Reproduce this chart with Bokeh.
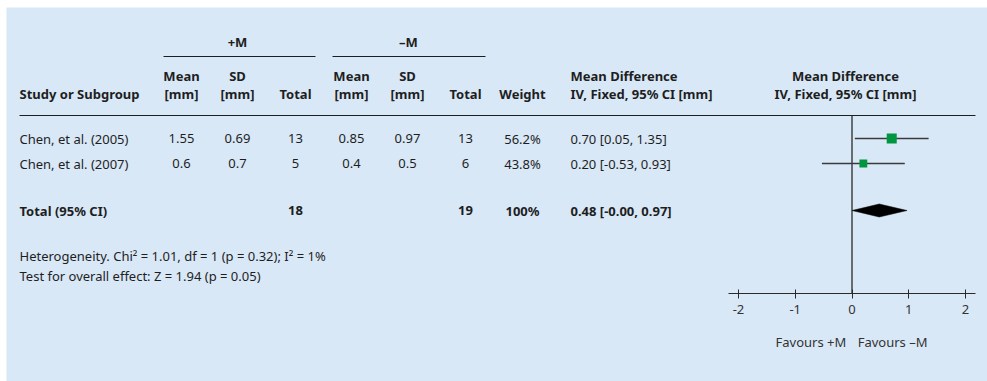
from bokeh.plotting import figure
from bokeh.models import Range1d, LinearAxis, FixedTicker, ColumnDataSource
from bokeh.core.properties import value
from bokeh.embed import file_html
from bokeh.resources import INLINE

# ---- data -------------------------------------------------------------
studies = ["Chen, et al. (2005)", "Chen, et al. (2007)"]
mean_plus = ["1.55", "0.6"]
sd_plus = ["0.69", "0.7"]
n_plus = [13, 5]
mean_minus = ["0.85", "0.4"]
sd_minus = ["0.97", "0.5"]
n_minus = [13, 6]
weights = [56.2, 43.8]
md = [0.70, 0.20]
ci_low = [0.05, -0.53]
ci_high = [1.35, 0.93]

total_label = "Total (95% CI)"
total_n_plus = 18
total_n_minus = 19
total_weight = 100
total_md = 0.48
total_low = -0.00
total_high = 0.97

heterogeneity = "Heterogeneity. Chi\u00b2 = 1.01, df = 1 (p = 0.32); I\u00b2 = 1%"
overall_effect = "Test for overall effect: Z = 1.94 (p = 0.05)"

axis_ticks = [-2, -1, 0, 1, 2]
favours_left = "Favours +M"
favours_right = "Favours \u2013M"

# ---- styling ----------------------------------------------------------
W, H = 987, 381
PANEL = "#D9E8F7"
INK = "#1e1e1e"
FONT = value("Noto Sans")
FS = "13px"

# column anchors (page pixels)
X_STUDY = 19
X_MP, X_SDP, X_NP = 181, 237, 295
X_MM, X_SDM, X_NM = 351, 407, 465
X_W = 522
X_CI = 570
X_FOREST_HDR = 845

Y_GROUP, Y_GROUP_LINE = 41, 56
Y_H1, Y_H2 = 75, 93
Y_HDR_LINE = 115
ROW_Y = [138, 163]
Y_TOTAL = 210
Y_HET, Y_OVERALL = 255, 275
Y_AXIS = 293
Y_FAV = 341

# mean-difference scale: zero at 851.5 px, 56.75 px per unit
ZERO_PX, UNIT_PX = 851.5, 56.75
md_start = (0 - ZERO_PX) / UNIT_PX
md_end = (W - ZERO_PX) / UNIT_PX

p = figure(width=W, height=H, x_range=Range1d(0, W), y_range=Range1d(H, 0),
           x_axis_type=None, y_axis_type=None, toolbar_location=None,
           output_backend="svg", min_border=0)
p.extra_x_ranges = {"md": Range1d(md_start, md_end)}
p.grid.visible = False
p.outline_line_color = None
p.background_fill_color = "white"
p.border_fill_color = "white"

# light panel behind everything
p.quad(left=[6], right=[W], top=[7], bottom=[H], fill_color=PANEL, line_color=None)


def txt(xs, ys, texts, align="center", bold=False, color=INK, size=FS, x_range_name="default"):
    p.text(x=xs, y=ys, text=texts, text_align=align, text_baseline="middle",
           text_font=FONT, text_font_size=size, text_color=color,
           text_font_style="bold" if bold else "normal", x_range_name=x_range_name)


# ---- header -----------------------------------------------------------
txt([237, 408], [Y_GROUP] * 2, ["+M", "\u2013M"], bold=True)
p.segment(x0=[163, 332], y0=[Y_GROUP_LINE] * 2, x1=[315, 485], y1=[Y_GROUP_LINE] * 2,
          line_color=INK, line_width=1)

txt([X_MP, X_SDP, X_MM, X_SDM], [Y_H1] * 4, ["Mean", "SD", "Mean", "SD"], bold=True)
txt([X_MP, X_SDP, X_MM, X_SDM], [Y_H2] * 4, ["[mm]"] * 4, bold=True)
txt([X_NP, X_NM, X_W], [Y_H2] * 3, ["Total", "Total", "Weight"], bold=True)
txt([X_STUDY], [Y_H2], ["Study or Subgroup"], align="left", bold=True)
txt([X_CI, X_CI], [Y_H1, Y_H2], ["Mean Difference", "IV, Fixed, 95% CI [mm]"], align="left", bold=True)
txt([X_FOREST_HDR, X_FOREST_HDR], [Y_H1, Y_H2], ["Mean Difference", "IV, Fixed, 95% CI [mm]"], bold=True)

p.segment(x0=[X_STUDY], y0=[Y_HDR_LINE], x1=[975], y1=[Y_HDR_LINE], line_color=INK, line_width=1)

# ---- study rows -------------------------------------------------------
txt([X_STUDY] * 2, ROW_Y, studies, align="left")
txt([X_MP] * 2, ROW_Y, mean_plus)
txt([X_SDP] * 2, ROW_Y, sd_plus)
txt([X_NP] * 2, ROW_Y, [str(n) for n in n_plus])
txt([X_MM] * 2, ROW_Y, mean_minus)
txt([X_SDM] * 2, ROW_Y, sd_minus)
txt([X_NM] * 2, ROW_Y, [str(n) for n in n_minus])
txt([X_W] * 2, ROW_Y, [f"{w:.1f}%" for w in weights])
txt([X_CI] * 2, ROW_Y, [f"{m:.2f} [{lo:.2f}, {hi:.2f}]" for m, lo, hi in zip(md, ci_low, ci_high)],
    align="left")

# ---- total row --------------------------------------------------------
txt([X_STUDY], [Y_TOTAL], [total_label], align="left", bold=True)
txt([X_NP, X_NM, X_W], [Y_TOTAL] * 3, [str(total_n_plus), str(total_n_minus), f"{total_weight}%"], bold=True)
txt([X_CI], [Y_TOTAL], [f"{total_md:.2f} [{total_low:.2f}, {total_high:.2f}]"], align="left", bold=True)

txt([X_STUDY, X_STUDY], [Y_HET, Y_OVERALL], [heterogeneity, overall_effect], align="left")

# ---- forest plot ------------------------------------------------------
p.segment(x0=[0], y0=[Y_HDR_LINE], x1=[0], y1=[Y_AXIS], x_range_name="md",
          line_color="#2a2a2a", line_width=1.3)

src = ColumnDataSource(dict(md=md, lo=ci_low, hi=ci_high, y=ROW_Y,
                            size=[w / 5.6 for w in weights]))
p.segment(x0="lo", y0="y", x1="hi", y1="y", source=src, x_range_name="md",
          line_color="#3a3a3a", line_width=1.3)
p.scatter(x="md", y="y", size="size", marker="square", source=src, x_range_name="md",
          fill_color="#00963F", line_color=None)

p.patch(x=[total_low, total_md, total_high, total_md],
        y=[Y_TOTAL, Y_TOTAL - 6.5, Y_TOTAL, Y_TOTAL + 6.5],
        x_range_name="md", fill_color="black", line_color="black", line_width=0.5)

axis = LinearAxis(x_range_name="md", fixed_location=Y_AXIS,
                  bounds=(-2.176, 2.176), ticker=FixedTicker(ticks=axis_ticks))
axis.major_label_overrides = {t: str(t) for t in axis_ticks}
axis.axis_line_color = "#2a2a2a"
axis.major_tick_line_color = "#2a2a2a"
axis.major_tick_in = 4
axis.major_tick_out = 5
axis.minor_tick_line_color = None
axis.major_label_text_font = "Noto Sans"
axis.major_label_text_font_size = FS
axis.major_label_text_color = "#333333"
axis.major_label_standoff = 6
p.add_layout(axis, "below")

txt([-0.1], [Y_FAV], [favours_left], align="right", color="#333333", x_range_name="md")
txt([0.1], [Y_FAV], [favours_right], align="left", color="#333333", x_range_name="md")

open("out.html", "w").write(file_html(p, INLINE))
